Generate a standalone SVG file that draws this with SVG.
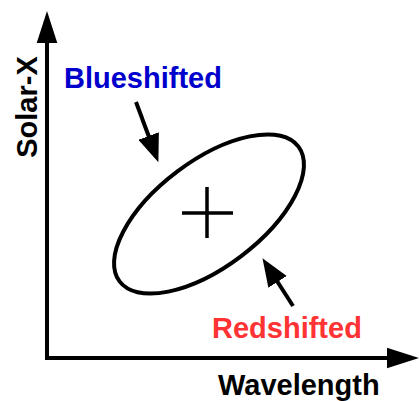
<svg xmlns="http://www.w3.org/2000/svg" width="419" height="401" viewBox="0 0 419 401">
<style>
.lbl{font-family:"Liberation Sans",Arial,sans-serif;font-weight:bold;font-size:29px}
.ax{stroke:#000;stroke-width:4;fill:none}
.ar{stroke:#000;stroke-width:4;fill:none}
</style>
<defs>
<marker id="axh" markerUnits="userSpaceOnUse" markerWidth="32" markerHeight="22" refX="1" refY="10" orient="auto" viewBox="0 0 31 20">
<path d="M0,0 L31,10 L0,20 Z" fill="#000"/>
</marker>
<marker id="sh" markerUnits="userSpaceOnUse" markerWidth="28" markerHeight="22" refX="1" refY="10.5" orient="auto" viewBox="0 0 27 21">
<path d="M0,0 L27,10.5 L0,21 Z" fill="#000"/>
</marker>
</defs>
<g id="axes">
<path class="ax" d="M47,360 L47,42" marker-end="url(#axh)"/>
<path class="ax" d="M45,358 L388,358" marker-end="url(#axh)"/>
</g>
<g id="ellipse">
<ellipse cx="209" cy="214" rx="112" ry="53" transform="rotate(-37 209 214)" fill="none" stroke="#000" stroke-width="4"/>
<path d="M207,187 V238 M182,213 H233" stroke="#000" stroke-width="3.5" fill="none"/>
</g>
<g id="connectors">
<path class="ar" d="M136,102 L149,137" marker-end="url(#sh)"/>
<path class="ar" d="M293,306 L277,281" marker-end="url(#sh)"/>
</g>
<g id="blue-label"><text class="lbl" x="64" y="88" fill="#0000cc">Blueshifted</text></g>
<g id="red-label"><text class="lbl" x="212" y="338" fill="#ff3333">Redshifted</text></g>
<g id="x-label"><text class="lbl" x="218" y="395">Wavelength</text></g>
<g id="y-label"><text class="lbl" transform="translate(37,107) rotate(-90)" text-anchor="middle">Solar-X</text></g>
</svg>
